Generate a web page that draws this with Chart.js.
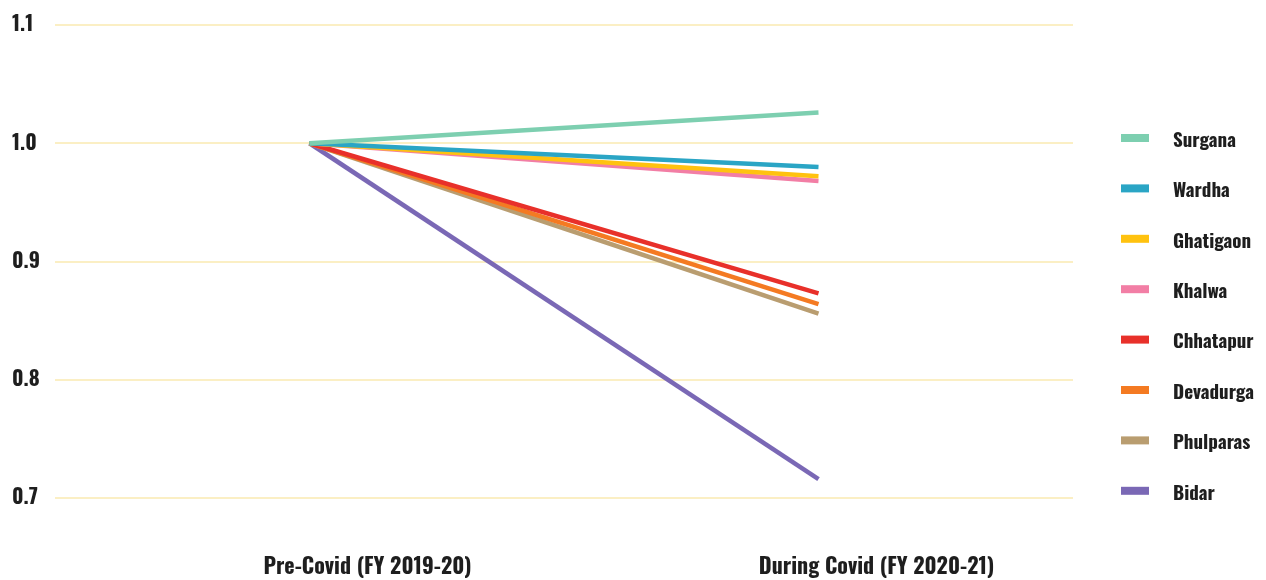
<!DOCTYPE html>
<html>
<head>
<meta charset="utf-8">
<script src="https://cdn.jsdelivr.net/npm/chart.js@4/dist/chart.umd.min.js"></script>
<style>
  html, body { margin: 0; padding: 0; background: #fff; }
  #wrap { width: 1266px; height: 580px; }
</style>
</head>
<body>
<div id="wrap"><canvas id="chart"></canvas></div>
<script>
const periods = ["Pre-Covid (FY 2019-20)", "During Covid (FY 2020-21)"];
const districts = ["Surgana", "Wardha", "Ghatigaon", "Khalwa", "Chhatapur", "Devadurga", "Phulparas", "Bidar"];
const colors = ["#7dcfb0", "#2aa5c5", "#ffc20f", "#f27ea5", "#e8302a", "#f47a22", "#b99d70", "#7a68b5"];
const preCovid = [1, 1, 1, 1, 1, 1, 1, 1];
const duringCovid = [1.026, 0.980, 0.972, 0.968, 0.873, 0.864, 0.856, 0.716];
const yTicks = [0.7, 0.8, 0.9, 1.0, 1.1];

const FONT = 'Oswald, "Roboto Condensed", sans-serif';

// legend drawn at the right, one row per district
const sideLegend = {
  id: "sideLegend",
  afterDraw(chart) {
    const ctx = chart.ctx;
    ctx.save();
    ctx.font = "bold 19px " + FONT;
    ctx.textBaseline = "middle";
    ctx.textAlign = "left";
    districts.forEach((name, i) => {
      const y = 138 + i * 50.4;
      ctx.fillStyle = colors[i];
      ctx.fillRect(1121, y - 4, 28, 8);
      ctx.fillStyle = "#1e1e1e";
      ctx.fillText(name, 1173, y + 3);
    });
    ctx.restore();
  }
};

new Chart(document.getElementById("chart"), {
  type: "line",
  data: {
    labels: periods,
    datasets: districts.map((name, i) => ({
      label: name,
      data: [preCovid[i], duringCovid[i]],
      borderColor: colors[i],
      backgroundColor: colors[i],
      borderWidth: 4.5,
      pointRadius: 0,
      tension: 0
    }))
  },
  options: {
    responsive: true,
    maintainAspectRatio: false,
    animation: false,
    layout: { padding: { top: 25, right: 193, left: 12, bottom: 0 } },
    plugins: {
      legend: { display: false },
      tooltip: { enabled: false }
    },
    scales: {
      x: {
        offset: true,
        grid: { display: false, drawTicks: false },
        border: { display: false },
        ticks: {
          padding: 56,
          labelOffset: 58,
          color: "#1e1e1e",
          font: { family: FONT, size: 22, weight: "bold" }
        },
        afterFit(scale) { scale.height = 82; }
      },
      y: {
        min: 0.7,
        max: 1.1,
        afterBuildTicks(scale) { scale.ticks = yTicks.map(v => ({ value: v })); },
        grid: { color: "#fbefc4", lineWidth: 2, drawTicks: false },
        border: { display: false },
        ticks: {
          crossAlign: "far",
          padding: 0,
          color: "#1e1e1e",
          font: { family: FONT, size: 21, weight: "bold" },
          callback: v => v.toFixed(1)
        },
        afterFit(scale) { scale.width = 43; }
      }
    }
  },
  plugins: [sideLegend]
});
</script>
</body>
</html>
